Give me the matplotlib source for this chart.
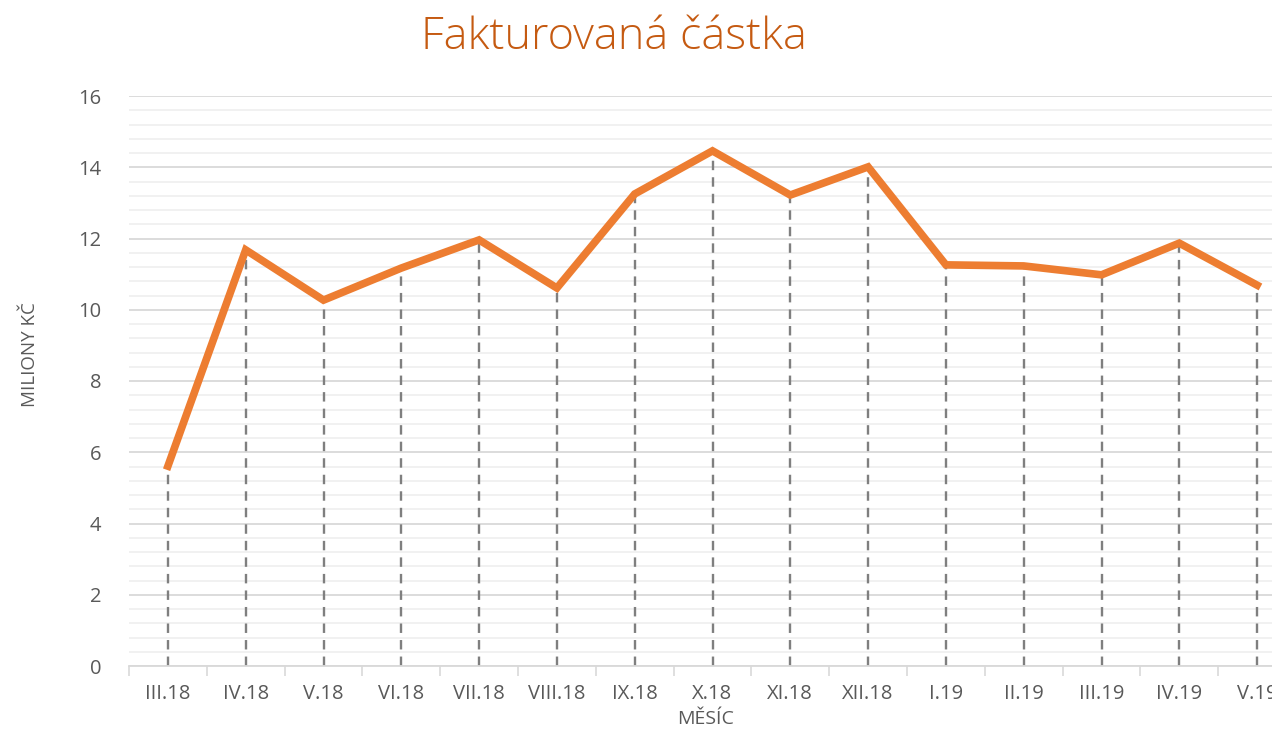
import matplotlib.pyplot as plt
from matplotlib.ticker import MultipleLocator

months = ['III.18', 'IV.18', 'V.18', 'VI.18', 'VII.18', 'VIII.18', 'IX.18',
          'X.18', 'XI.18', 'XII.18', 'I.19', 'II.19', 'III.19', 'IV.19', 'V.19']
amount = [5.61, 11.68, 10.27, 11.17, 11.96, 10.61, 13.25,
          14.46, 13.22, 14.01, 11.26, 11.23, 10.98, 11.87, 10.69]

plt.rcParams['font.family'] = ['Open Sans', 'DejaVu Sans']

fig = plt.figure(figsize=(12.72, 7.30), dpi=100)
# plot area runs past the right edge, as in the cropped original
ax = fig.add_axes([129/1272, 1 - 666/730, (1296-129)/1272, (666-96)/730])

x = list(range(len(months)))
ax.vlines(x, 0, amount, colors='#7f7f7f', linestyles=(0, (4, 3)), lw=1.7, zorder=2)
ax.plot(x, amount, color='#ED7D31', lw=5.5, solid_joinstyle='miter', zorder=3)

ax.set_xlim(-0.5, len(months) - 0.5)
ax.set_ylim(0, 16)
ax.yaxis.set_major_locator(MultipleLocator(2))
ax.yaxis.set_minor_locator(MultipleLocator(0.4))
ax.grid(axis='y', which='major', color='#d9d9d9', lw=1.3, zorder=0)
ax.grid(axis='y', which='minor', color='#f0f0f0', lw=1.3, zorder=0)

ax.set_xticks(x)
ax.set_xticklabels(months)
ax.set_xticks([i - 0.5 for i in range(len(months) + 1)], minor=True)
ax.tick_params(axis='x', which='major', length=0, pad=13, labelsize=14.5, labelcolor='#595959')
ax.tick_params(axis='x', which='minor', length=7, width=1.2, color='#d9d9d9')
ax.tick_params(axis='y', which='both', length=0, pad=20, labelsize=14.5, labelcolor='#595959')

for s in ['top', 'right', 'left']:
    ax.spines[s].set_visible(False)
ax.spines['bottom'].set_color('#d9d9d9')
ax.spines['bottom'].set_linewidth(1.3)

fig.text(614/1272, 1 - 38/730, 'Fakturovaná částka', ha='center', va='center',
         fontsize=32.5, fontweight='light', color='#C55A11')
fig.text(706/1272, 1 - 719/730, 'MĚSÍC', ha='center', va='center',
         fontsize=14, color='#595959')
fig.text(30/1272, 1 - 355/730, 'MILIONY KČ', ha='center', va='center',
         rotation=90, fontsize=13.5, color='#595959')

fig.savefig('out.png', dpi=100)
